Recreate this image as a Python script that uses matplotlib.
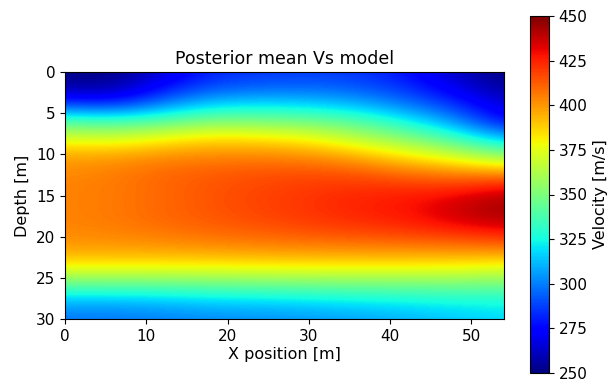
import numpy as np
import matplotlib
matplotlib.use("Agg")
import matplotlib.pyplot as plt

# Grid nodes
x_nodes = [0, 6, 12, 18, 24, 30, 36, 42, 48, 54]
depth_nodes = [0, 2, 4, 6, 8, 10, 12, 14, 16, 18, 20, 22, 24, 26, 28, 30]

# Velocity (m/s) columns, one per x node, listed from depth 0 to 30
vs_x00 = [252, 258, 290, 340, 372, 396, 402, 404, 404, 404, 402, 395, 375, 340, 310, 298]
vs_x06 = [251, 256, 285, 336, 370, 396, 405, 406, 406, 406, 403, 395, 375, 340, 310, 298]
vs_x12 = [265, 278, 302, 342, 378, 400, 410, 410, 410, 410, 405, 395, 375, 340, 312, 300]
vs_x18 = [282, 292, 318, 352, 385, 402, 412, 414, 414, 413, 408, 396, 375, 342, 315, 302]
vs_x24 = [285, 295, 320, 350, 383, 402, 414, 417, 418, 416, 410, 397, 376, 343, 316, 303]
vs_x30 = [287, 296, 318, 348, 378, 400, 414, 420, 421, 420, 412, 398, 376, 344, 318, 305]
vs_x36 = [285, 293, 312, 340, 365, 392, 412, 422, 425, 423, 414, 398, 376, 345, 320, 307]
vs_x42 = [278, 285, 300, 325, 352, 380, 405, 422, 428, 426, 416, 398, 376, 345, 322, 310]
vs_x48 = [262, 270, 285, 305, 335, 368, 400, 422, 436, 434, 418, 398, 375, 346, 324, 314]
vs_x54 = [250, 255, 265, 275, 310, 350, 395, 430, 445, 440, 422, 398, 372, 345, 325, 318]

columns = [vs_x00, vs_x06, vs_x12, vs_x18, vs_x24, vs_x30, vs_x36, vs_x42, vs_x48, vs_x54]
V = np.array(columns).T  # shape (n_depth, n_x)

cbar_ticks = [250, 275, 300, 325, 350, 375, 400, 425, 450]

dx = x_nodes[1] - x_nodes[0]
dz = depth_nodes[1] - depth_nodes[0]
extent = [x_nodes[0] - dx / 2, x_nodes[-1] + dx / 2,
          depth_nodes[-1] + dz / 2, depth_nodes[0] - dz / 2]

fig = plt.figure(figsize=(6.13, 3.82), dpi=100)
ax = fig.add_axes([65/613, (382-319)/382, 439/613, 247/382])
cax = fig.add_axes([530/613, 9/382, 19/613, 357/382])

im = ax.imshow(V, extent=extent, origin="upper", cmap="jet", vmin=250, vmax=450,
               interpolation="bicubic", aspect="auto")
ax.set_xlim(0, 54)
ax.set_ylim(30, 0)
ax.set_xticks([0, 10, 20, 30, 40, 50])
ax.set_yticks([0, 5, 10, 15, 20, 25, 30])
ax.tick_params(labelsize=11)
ax.set_xlabel("X position [m]", fontsize=11.5, labelpad=2)
ax.set_ylabel("Depth [m]", fontsize=11.5)
ax.set_title("Posterior mean Vs model", fontsize=12.5)

cb = fig.colorbar(im, cax=cax, ticks=cbar_ticks)
cb.ax.tick_params(labelsize=11)
cb.set_label("Velocity [m/s]", fontsize=11.5)

fig.savefig("out.png", dpi=100)
